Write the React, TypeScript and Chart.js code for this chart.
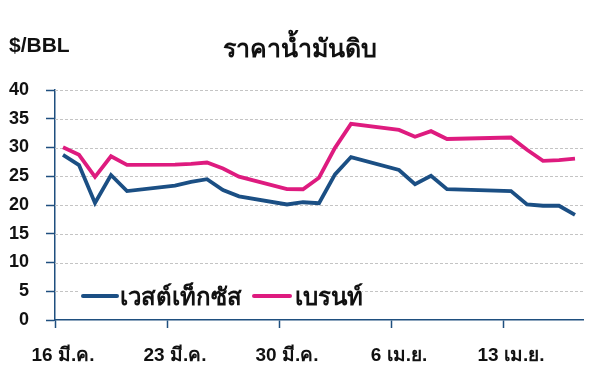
import React, { useEffect, useRef } from "react";
import { Chart, registerables } from "chart.js";

Chart.register(...registerables);

// Day index: 0 = 16 Mar
const dayIndex = [0, 1, 2, 3, 4, 7, 8, 9, 10, 11, 14, 15, 16, 17, 18, 21, 22, 23, 24, 28, 29, 30, 31, 32];
const wti = [28.7, 26.95, 20.37, 25.22, 22.43, 23.36, 24.01, 24.49, 22.6, 21.51, 20.09, 20.48, 20.31, 25.32, 28.34, 26.08, 23.63, 25.09, 22.76, 22.41, 20.11, 19.87, 19.87, 18.27];
const brent = [30.05, 28.73, 24.88, 28.47, 26.98, 27.03, 27.15, 27.39, 26.34, 24.93, 22.76, 22.74, 24.74, 29.94, 34.11, 33.05, 31.87, 32.84, 31.48, 31.74, 29.6, 27.69, 27.82, 28.08];
const tickDays = [0, 7, 14, 21, 28];
const tickLabels = ["16 มี.ค.", "23 มี.ค.", "30 มี.ค.", "6 เม.ย.", "13 เม.ย."];
const seriesNames = ["เวสต์เท็กซัส", "เบรนท์"];
const titleText = "ราคาน้ำมันดิบ";
const unitText = "$/BBL";

const BLUE = "#1b4f84";
const PINK = "#de1b7f";
const AXIS = "#1f4f7f";
const FONT = "'Liberation Sans', Arial, 'Noto Sans', sans-serif";

const overlay = {
  id: "overlay",
  beforeDatasetsDraw(chart: any) {
    const { ctx, chartArea } = chart;
    const y = chart.scales.y;
    ctx.save();
    ctx.strokeStyle = "#c4c4c4";
    ctx.lineWidth = 1;
    ctx.setLineDash([3, 2]);
    for (let v = 5; v <= 40; v += 5) {
      const py = Math.round(y.getPixelForValue(v)) + 0.5;
      ctx.beginPath();
      ctx.moveTo(chartArea.left, py);
      ctx.lineTo(chartArea.right, py);
      ctx.stroke();
    }
    ctx.restore();
  },
  afterDatasetsDraw(chart: any) {
    const { ctx } = chart;
    ctx.save();
    // legend
    ctx.fillStyle = "#ffffff";
    ctx.fillRect(80, 283, 282, 24);
    ctx.lineCap = "round";
    ctx.lineWidth = 4;
    ctx.strokeStyle = BLUE;
    ctx.beginPath();
    ctx.moveTo(83, 296);
    ctx.lineTo(117, 296);
    ctx.stroke();
    ctx.strokeStyle = PINK;
    ctx.beginPath();
    ctx.moveTo(254, 296);
    ctx.lineTo(290, 296);
    ctx.stroke();
    ctx.fillStyle = "#111";
    ctx.font = `bold 24px ${FONT}`;
    ctx.textBaseline = "alphabetic";
    ctx.textAlign = "left";
    ctx.fillText(seriesNames[0], 120, 305);
    ctx.fillText(seriesNames[1], 295, 305);
    // title
    ctx.font = `bold 25px ${FONT}`;
    ctx.textAlign = "center";
    ctx.fillText(titleText, 300, 57);
    ctx.font = `bold 21px ${FONT}`;
    ctx.textAlign = "left";
    ctx.fillText(unitText, 9, 52);
    ctx.restore();
  },
};

export default function App() {
  const ref = useRef<HTMLCanvasElement>(null);
  useEffect(() => {
    if (!ref.current) return;
    const chart = new Chart(ref.current, {
      type: "line",
      data: {
        datasets: [
          {
            label: seriesNames[0],
            data: dayIndex.map((d, i) => ({ x: d + 0.5, y: wti[i] })),
            borderColor: BLUE,
            borderWidth: 3.8,
            pointRadius: 0,
            tension: 0,
            fill: false,
          },
          {
            label: seriesNames[1],
            data: dayIndex.map((d, i) => ({ x: d + 0.5, y: brent[i] })),
            borderColor: PINK,
            borderWidth: 3.8,
            pointRadius: 0,
            tension: 0,
            fill: false,
          },
        ],
      },
      options: {
        responsive: false,
        animation: false,
        layout: { padding: { left: 0, right: 14, top: 90, bottom: 0 } },
        plugins: {
          legend: { display: false },
          tooltip: { enabled: false },
          title: { display: false },
        },
        scales: {
          x: {
            type: "linear",
            min: 0,
            max: 33,
            afterBuildTicks: (s: any) => {
              s.ticks = tickDays.map((v) => ({ value: v }));
            },
            afterFit: (s: any) => {
              s.height = 58;
            },
            grid: { drawOnChartArea: false, drawTicks: true, tickLength: 8, tickColor: AXIS, tickWidth: 1.5 },
            border: { color: AXIS, width: 1.5 },
            ticks: {
              callback: (v: any) => {
                const i = tickDays.indexOf(Number(v));
                return i >= 0 ? tickLabels[i] : "";
              },
              labelOffset: 8,
              padding: 16,
              maxRotation: 0,
              autoSkip: false,
              color: "#111",
              font: { family: FONT, size: 19, weight: "bold" },
            },
          },
          y: {
            min: 0,
            max: 40,
            afterFit: (s: any) => {
              s.width = 55;
            },
            grid: { drawOnChartArea: false, drawTicks: true, tickLength: 9, tickColor: AXIS, tickWidth: 1.5 },
            border: { color: AXIS, width: 1.5 },
            ticks: {
              stepSize: 5,
              padding: 17,
              color: "#111",
              font: { family: FONT, size: 18, weight: "bold" },
            },
          },
        },
      },
      plugins: [overlay],
    } as any);
    return () => chart.destroy();
  }, []);
  return (
    <div style={{ position: "absolute", left: 0, top: 0, width: 597, height: 378, background: "#fff" }}>
      <canvas ref={ref} width={597} height={378} />
    </div>
  );
}
